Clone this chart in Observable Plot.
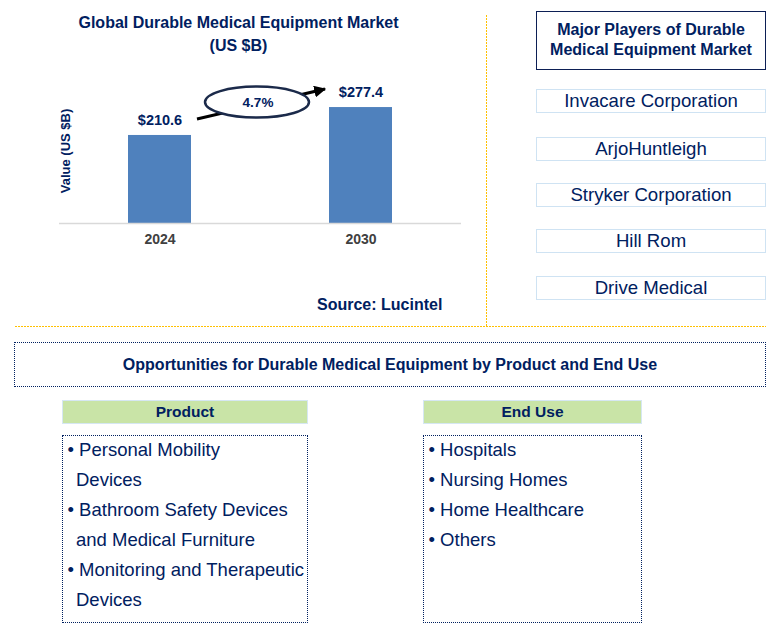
<!DOCTYPE html>
<html>
<head>
<meta charset="utf-8">
<script src="https://cdn.jsdelivr.net/npm/d3@7"></script>
<script src="https://cdn.jsdelivr.net/npm/@observablehq/plot@0.6"></script>
<style>
  html, body { margin: 0; padding: 0; background: #fff; }
  #root { position: relative; width: 779px; height: 637px; font-family: "Liberation Sans", Arial, sans-serif; color: #002060; overflow: hidden; }
  .abs { position: absolute; }
  .title { left: 0; width: 477px; text-align: center; font-weight: bold; font-size: 16px; line-height: 23px; }
  .ylab { font-weight: bold; font-size: 13px; white-space: nowrap; transform: translate(-50%, -50%) rotate(-90deg); }
  .source { font-weight: bold; font-size: 16px; }
  .vdots { width: 1.5px; background: repeating-linear-gradient(to bottom, #ffc000 0 2px, transparent 2px 3px); }
  .hdots { height: 1.5px; background: repeating-linear-gradient(to right, #ffc000 0 2px, transparent 2px 3px); }
  .mp { box-sizing: border-box; border: 1.5px solid #0c1f55; text-align: center; font-weight: bold; font-size: 16px; line-height: 20px; padding-top: 8px; }
  .co { box-sizing: border-box; border: 1.5px solid #cfe3f3; text-align: center; font-size: 18.6px; display: flex; align-items: center; justify-content: center; }
  .opp { box-sizing: border-box; border: 1px dotted #002060; text-align: center; font-weight: bold; font-size: 16px; display: flex; align-items: center; justify-content: center; }
  .hdr { box-sizing: border-box; background: #c9e4a7; border: 1.5px solid #d6e7f3; text-align: center; font-weight: bold; font-size: 15.5px; display: flex; align-items: center; justify-content: center; }
  .list { box-sizing: border-box; border: 1px dotted #002060; font-size: 18.5px; line-height: 30px; overflow: visible; }
  .item { padding-left: 13px; text-indent: -8.5px; white-space: pre; }
  .item:first-child { margin-top: -1.5px; }
</style>
</head>
<body>
<div id="root"></div>
<script>
// ---- data ----
const chartTitle = ["Global Durable Medical Equipment Market", "(US $B)"];
const years = ["2024", "2030"];
const values = [210.6, 277.4];
const cagr = "4.7%";
const yLabel = "Value (US $B)";
const source = "Source: Lucintel";
const playersTitle = ["Major Players of Durable", "Medical Equipment Market"];
const players = ["Invacare Corporation", "ArjoHuntleigh", "Stryker Corporation", "Hill Rom", "Drive Medical"];
const oppTitle = "Opportunities for Durable Medical Equipment by Product and End Use";
const segmentHeaders = ["Product", "End Use"];
const productItems = ["Personal Mobility\nDevices", "Bathroom Safety Devices\nand Medical Furniture", "Monitoring and Therapeutic\nDevices"];
const endUseItems = ["Hospitals", "Nursing Homes", "Home Healthcare", "Others"];

const navy = "#002060";
const root = document.getElementById("root");
function box(cls, css, html) {
  const d = document.createElement("div");
  d.className = "abs " + cls;
  Object.assign(d.style, css);
  if (html !== undefined) d.innerHTML = html;
  root.appendChild(d);
  return d;
}

// ---- bar chart ----
const data = years.map((y, i) => ({year: y, value: values[i]}));
const plot = Plot.plot({
  width: 486, height: 260,
  marginLeft: 59, marginRight: 25, marginTop: 97.6, marginBottom: 37,
  x: {domain: years, paddingInner: 0.687, paddingOuter: 0.343, label: null, tickSize: 0, tickPadding: 11},
  y: {domain: [0, 300], axis: null},
  style: {background: "transparent", fontFamily: "'Liberation Sans', Arial, sans-serif", fontSize: "14px", fontWeight: "bold", color: "#404040", overflow: "visible"},
  marks: [
    Plot.barY(data, {x: "year", y: "value", fill: "#4f81bd"}),
    Plot.ruleY([0], {stroke: "#d9d9d9", strokeWidth: 1.5}),
    Plot.text(data, {x: "year", y: "value", text: d => "$" + d.value.toFixed(1), dy: -15, fontSize: 14.5, fontWeight: "bold", fill: navy})
  ]
});
plot.style.position = "absolute";
plot.style.left = "0px";
plot.style.top = "0px";
root.appendChild(plot);

// annotation: CAGR arrow + ellipse, positioned from the scales
const xs = plot.scale("x"), ys = plot.scale("y");
const bw = xs.bandwidth;
const x0 = xs.apply(years[0]), x1 = xs.apply(years[1]);
const yA = ys.apply(values[0]), yB = ys.apply(values[1]);
const svg = d3.select(plot);
const defs = svg.append("defs");
defs.append("marker").attr("id", "ah").attr("viewBox", "0 0 10 10").attr("refX", 9).attr("refY", 5)
  .attr("markerWidth", 4).attr("markerHeight", 4).attr("orient", "auto")
  .append("path").attr("d", "M0,0L10,5L0,10z").attr("fill", "#000");
const g = svg.append("g");
g.append("line")
  .attr("x1", x0 + bw + 6).attr("y1", yA - 16)
  .attr("x2", x1 - 4).attr("y2", yB - 18)
  .attr("stroke", "#000").attr("stroke-width", 3).attr("marker-end", "url(#ah)");
const cx = (x0 + x1 + bw) / 2 - 3, cy = yB - 5;
g.append("ellipse").attr("cx", cx).attr("cy", cy).attr("rx", 52).attr("ry", 15.5)
  .attr("fill", "#fff").attr("stroke", "#1b2a4a").attr("stroke-width", 2.5);
g.append("text").attr("x", cx + 1).attr("y", cy + 1).attr("text-anchor", "middle").attr("dominant-baseline", "middle")
  .attr("font-size", 13.5).attr("font-weight", "bold").attr("fill", navy).text(cagr);

// titles and labels
box("title", {top: "11px"}, chartTitle[0]);
box("title", {top: "34px"}, chartTitle[1]);
box("ylab", {left: "65px", top: "151px"}, yLabel);
box("source", {left: "317px", top: "296px"}, source);

// dotted separators
box("vdots", {left: "485.5px", top: "15px", height: "311px"});
box("hdots", {left: "15px", top: "325.5px", width: "751px"});

// major players
box("mp", {left: "536px", top: "11px", width: "230px", height: "59px"}, playersTitle.join("<br>"));
const coTops = [89, 137, 183, 229, 276];
players.forEach((p, i) => box("co", {left: "536px", top: coTops[i] + "px", width: "230px", height: "24px"}, p));

// opportunities
box("opp", {left: "14px", top: "342px", width: "752px", height: "45px"}, oppTitle);
box("hdr", {left: "62px", top: "400px", width: "246px", height: "24px"}, segmentHeaders[0]);
box("hdr", {left: "423px", top: "400px", width: "219px", height: "24px"}, segmentHeaders[1]);
function list(items, left, width) {
  const d = box("list", {left: left + "px", top: "435px", width: width + "px", height: "188px"});
  items.forEach(t => {
    const it = document.createElement("div");
    it.className = "item";
    it.textContent = "\u2022 " + t;
    d.appendChild(it);
  });
}
list(productItems, 62, 246);
list(endUseItems, 423, 219);
</script>
</body>
</html>
